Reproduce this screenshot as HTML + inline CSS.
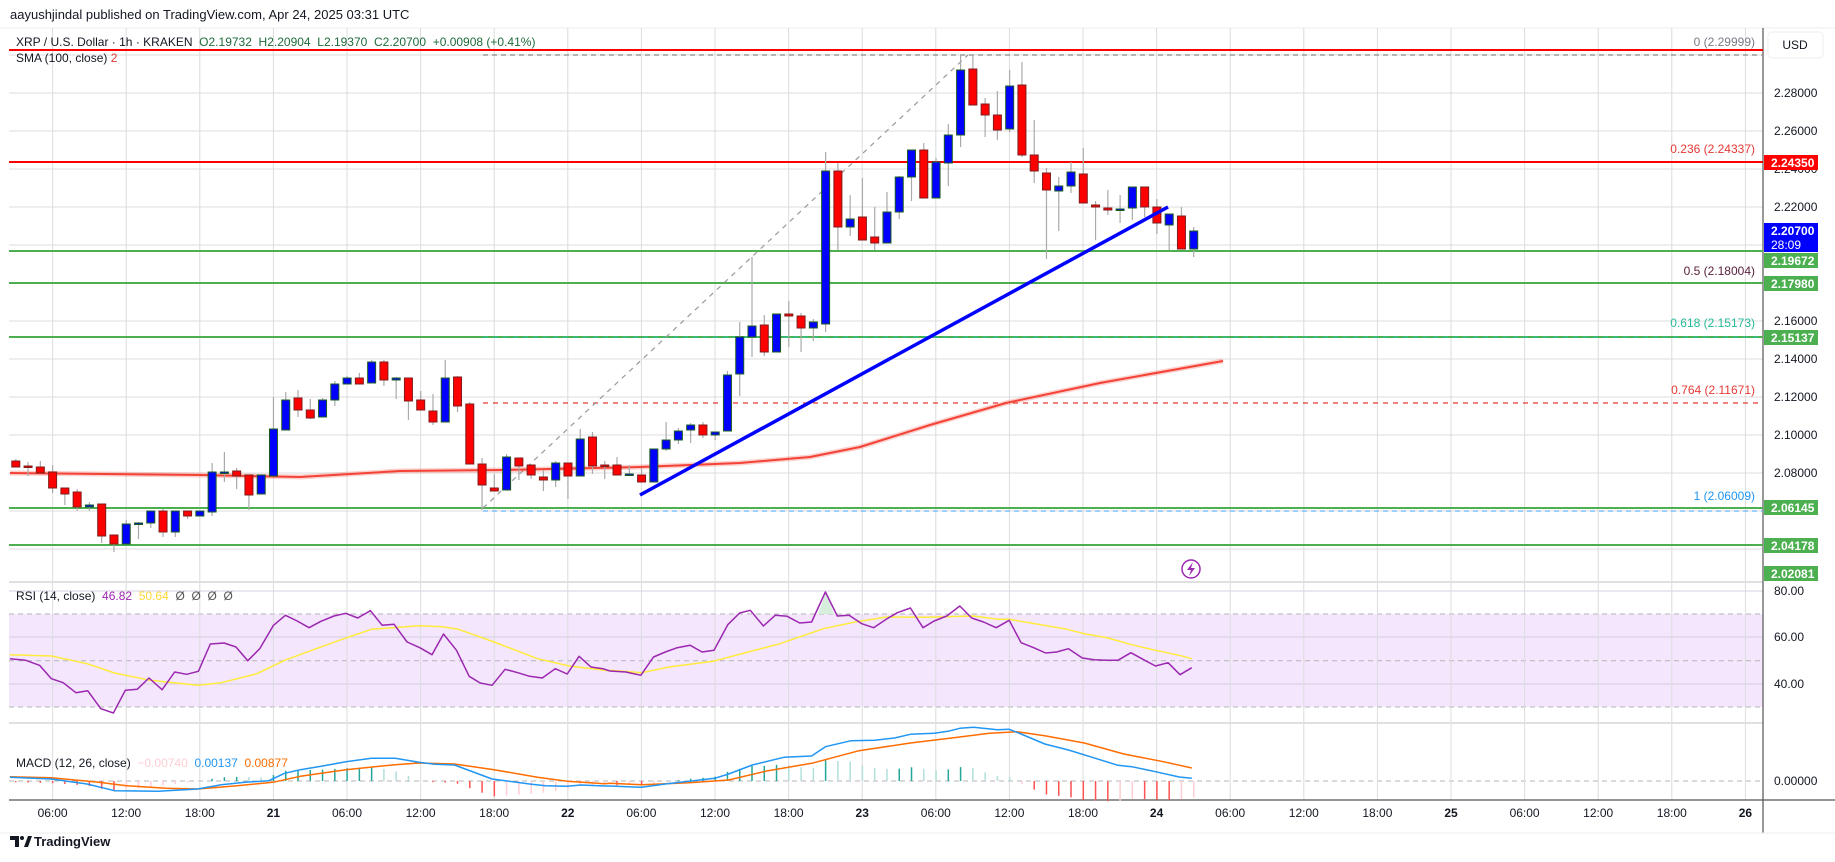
<!DOCTYPE html>
<html><head><meta charset="utf-8">
<style>
html,body{margin:0;padding:0;background:#fff;}
body{width:1835px;height:857px;overflow:hidden;font-family:"Liberation Sans",sans-serif;}
svg text{font-family:"Liberation Sans",sans-serif;}
</style></head>
<body>
<svg id="c" width="1835" height="857" xmlns="http://www.w3.org/2000/svg"></svg>
<script>
var S=[];
function L(x1,y1,x2,y2,c,w,d){S.push('<line x1="'+x1+'" y1="'+y1+'" x2="'+x2+'" y2="'+y2+'" stroke="'+c+'" stroke-width="'+(w||1)+'"'+(d?' stroke-dasharray="'+d+'"':'')+'/>');}
function R(x,y,w,h,f,s){S.push('<rect x="'+x+'" y="'+y+'" width="'+w+'" height="'+h+'" fill="'+f+'"'+(s?' stroke="'+s+'" stroke-width="1"':'')+'/>');}
function T(x,y,t,c,sz,anc,wt){S.push('<text x="'+x+'" y="'+y+'" fill="'+c+'" font-size="'+(sz||12)+'"'+(anc?' text-anchor="'+anc+'"':'')+(wt?' font-weight="'+wt+'"':'')+'>'+t+'</text>');}
function P(pts,c,w,fill){S.push('<polyline points="'+pts.map(function(p){return p[0].toFixed(1)+','+p[1].toFixed(1)}).join(' ')+'" fill="'+(fill||'none')+'" stroke="'+c+'" stroke-width="'+w+'" stroke-linejoin="round"/>');}
var XL=9,XR=1763;
// chart frame
R(0,0,1835,857,'#fff');
L(0,28,1835,28,'#eeeeee',1);
// RSI band
R(XL,614,XR-XL,93,'#f3e6fd');
// horizontal grid price
for(var y=93;y<=560;y+=38)L(XL,y,XR,y,'#dcdcdc',1);
L(XL,55,XR,55,'#dcdcdc',1);
// RSI grid
[591,637,684].forEach(function(y){L(XL,y,XR,y,'#d6cfe0',1);});
[614,660.7,707].forEach(function(y){L(XL,y,XR,y,'#b5b5b5',1,'5,4');});
// MACD zero
L(XL,781,XR,781,'#b5b5b5',1,'5,4');
// vertical grid
var tl=['06:00','12:00','18:00','21','06:00','12:00','18:00','22','06:00','12:00','18:00','23','06:00','12:00','18:00','24','06:00','12:00','18:00','25','06:00','12:00','18:00','26'];
for(var k=0;k<24;k++){var x=52.6+73.6*k;L(x,28,x,800,'#dcdcdc',1);T(x,817,tl[k],'#131722',12,'middle',tl[k].length==2?'bold':null);}
// pane separators
L(XL,582,XR,582,'#e0e0e0',2);L(XL,723,XR,723,'#e0e0e0',2);
L(XL,800,XR+72,800,'#555',1.2);
L(XR,28,XR,833,'#555',1.2);
L(0,833,1835,833,'#eeeeee',1);
// horizontal levels
L(XL,50,XR,50,'#ff0000',2);
L(483,55,XR,55,'#888',1.3,'5,4');
L(XL,162,XR,162,'#ff0000',2);
L(XL,251,XR,251,'#4caf50',2);
L(XL,283,XR,283,'#4caf50',2);
L(XL,337,XR,337,'#4caf50',2);
L(483,337,XR,337,'#26c6a6',1,'5,5');
L(483,403,XR,403,'#e53935',1.3,'5,5');
L(XL,508,XR,508,'#4caf50',2);
L(483,511,XR,511,'#64b5f6',1.3,'5,4');
L(XL,545,XR,545,'#4caf50',2);
// fib diagonal
L(483,508,968,55,'#999',1.2,'5,5');
// fib labels
T(1755,46,'0 (2.29999)','#787b86',12,'end');
T(1755,153,'0.236 (2.24337)','#e53935',12,'end');
T(1755,275,'0.5 (2.18004)','#5a1e3a',12,'end');
T(1755,327,'0.618 (2.15173)','#26b99a',12,'end');
T(1755,394,'0.764 (2.11671)','#e53935',12,'end');
T(1755,500,'1 (2.06009)','#2196f3',12,'end');
// SMA
var sma=[[10,473],[200,475],[300,477],[400,471],[500,470],[640,467],[740,463],[810,457],[860,447],[930,425],[1006,403],[1100,383],[1223,361]];
P(sma,'rgba(244,67,54,0.25)',5);P(sma,'#f44336',2);
// candles
var C=[[461,467,459,467,'d'],[466,467,462,476,'d'],[467,473,461,473,'d'],[472,488,465,493,'d'],[488,494,488,505,'d'],[492,507,489,511,'d'],[505,507,502,511,'u'],[504,536,504,543,'d'],[535,544,535,552,'d'],[524,544,520,544,'u'],[523,524,522,539,'u'],[511,523,511,528,'u'],[511,532,509,537,'d'],[511,532,511,537,'u'],[511,516,511,519,'d'],[511,516,511,516,'u'],[472,512,463,516,'u'],[472,473,452,482,'u'],[471,476,468,489,'d'],[475,495,475,510,'d'],[475,494,475,494,'u'],[429,476,397,476,'u'],[400,430,392,430,'u'],[398,410,390,417,'d'],[410,418,399,419,'d'],[400,417,398,417,'u'],[384,400,381,406,'u'],[378,384,376,384,'u'],[378,384,373,384,'d'],[362,383,360,383,'u'],[362,380,360,386,'d'],[378,380,377,399,'u'],[378,401,378,420,'d'],[400,410,391,410,'d'],[411,422,394,425,'d'],[378,422,360,422,'u'],[377,406,376,412,'d'],[404,464,402,464,'d'],[464,485,458,510,'d'],[488,491,474,491,'d'],[457,490,454,490,'u'],[458,466,458,480,'d'],[465,475,465,479,'d'],[477,480,470,491,'d'],[463,480,461,487,'u'],[463,476,463,499,'d'],[439,476,429,476,'u'],[437,466,432,474,'d'],[465,466,461,479,'d'],[465,475,457,475,'d'],[474,475,465,476,'u'],[475,482,468,482,'d'],[449,482,449,482,'u'],[440,449,422,451,'u'],[431,440,428,444,'u'],[425,430,423,443,'u'],[425,435,422,438,'d'],[432,435,432,440,'u'],[375,431,371,431,'u'],[337,374,322,396,'u'],[326,337,257,357,'u'],[325,352,315,356,'d'],[314,352,314,352,'u'],[314,316,301,347,'d'],[316,328,313,352,'d'],[322,328,319,341,'u'],[171,324,152,332,'u'],[171,227,163,250,'d'],[219,227,195,236,'u'],[217,240,178,240,'d'],[237,243,207,250,'d'],[212,243,192,243,'u'],[177,212,176,219,'u'],[150,177,150,201,'u'],[150,198,143,198,'d'],[162,198,158,198,'u'],[135,163,124,186,'u'],[70,135,55,147,'u'],[69,105,55,105,'d'],[104,115,98,137,'d'],[115,130,91,140,'d'],[86,129,70,132,'u'],[85,155,62,157,'d'],[155,171,120,183,'d'],[173,190,168,259,'d'],[186,191,177,231,'u'],[172,186,162,193,'u'],[174,203,148,203,'d'],[205,207,201,240,'d'],[208,210,190,215,'d'],[209,209,195,223,'u'],[187,208,187,220,'u'],[187,207,187,217,'d'],[207,223,199,234,'d'],[214,225,214,250,'u'],[216,249,207,249,'d'],[231,249,227,257,'u']];
C.forEach(function(c,i){var x=15.8+12.27*i;L(x,c[2],x,c[3],'#aaaaaa',1.2);
var h=Math.max(c[1]-c[0],1.5);
if(c[4]=='u')R(x-4,c[0],8,h,'#0000ff','#1b5e20');else R(x-4,c[0],8,h,'#ff0000','#7f1d1d');});
// trendline
L(640,495,1168,207,'#0000ff',3.5);
// RSI
function m10(a,oy){return a.map(function(p){return [p[0]/2.53,oy+p[1]/3];});}
function m11(a,oy){return a.map(function(p){return [610+p[0]/2.53,oy+p[1]/3];});}
var r10=[[25,200],[65,205],[100,220],[130,260],[160,272],[192,302],[222,296],[255,350],[287,363],[317,295],[347,292],[377,258],[410,293],[442,240],[472,247],[502,238],[532,156],[567,153],[597,165],[627,206],[657,170],[692,100],[722,70],[752,87],[782,107],[812,88],[845,72],[875,64],[905,78],[937,56],[967,100],[997,97],[1030,150],[1062,167],[1093,188],[1122,126],[1155,175],[1187,253],[1215,273],[1245,280],[1278,232],[1310,242],[1340,253],[1372,258],[1405,230],[1435,246],[1465,193],[1495,225],[1525,230]];
var r11=[[0,237],[40,240],[78,250],[110,195],[140,180],[170,167],[203,160],[233,180],[263,175],[298,98],[328,63],[355,55],[388,102],[418,70],[448,73],[480,93],[510,90],[545,0],[575,72],[605,70],[637,95],[667,107],[697,83],[727,62],[760,48],[792,107],[820,87],[852,72],[885,42],[915,78],[945,90],[977,107],[1010,85],[1040,152],[1072,167],[1102,183],[1130,180],[1160,170],[1195,198],[1225,203],[1257,205],[1285,205],[1318,182],[1350,203],[1380,222],[1412,212],[1442,248],[1472,227]];
var y10=[[25,188],[130,192],[220,215],[290,243],[380,265],[500,280],[560,272],[650,245],[720,205],[800,170],[870,140],[940,112],[1060,101],[1120,104],[1160,112],[1250,150],[1360,200],[1440,222],[1540,236]];
var y11=[[0,235],[80,242],[150,225],[260,208],[350,180],[430,155],[540,110],[620,90],[700,75],[800,76],[920,72],[980,82],[1010,82],[1150,110],[1200,125],[1260,138],[1320,158],[1380,175],[1440,190],[1472,200]];
S.push('<polygon points="818,614 826,592 834,614" fill="#d8eedd"/>');
P(m10(y10,592).concat(m11(y11,592)),'#ffeb3b',1.5);
P(m10(r10,592).concat(m11(r11,592)),'#9c27b0',1.5);
// MACD
var b10=[[25,550],[130,555],[220,570],[290,590],[400,592],[500,585],[560,572],[620,565],[680,560],[720,538],[760,527],[820,515],[875,503],[940,493],[1000,493],[1060,505],[1100,511],[1150,513],[1245,555],[1340,570],[1380,575],[1435,577],[1470,573],[1530,576]];
var b11=[[0,576],[80,580],[140,570],[200,562],[265,553],[300,540],[360,513],[440,490],[510,486],[545,458],[610,440],[670,439],[720,432],[760,421],[820,418],[855,412],[885,403],[920,400],[980,407],[1010,406],[1040,420],[1100,450],[1160,468],[1220,490],[1285,514],[1320,518],[1380,533],[1440,549],[1472,553]];
var o10=[[25,548],[130,551],[250,565],[320,575],[420,583],[500,585],[600,575],[690,565],[760,547],[875,527],[1000,512],[1060,507],[1150,510],[1250,527],[1360,550],[1435,562],[1530,569]];
var o11=[[0,568],[80,572],[200,566],[300,558],[400,530],[510,508],[630,470],[760,447],[880,430],[960,418],[1030,413],[1100,425],[1200,447],[1300,480],[1400,503],[1472,522]];
var B=m10(b10,594).concat(m11(b11,594)),O=m10(o10,594).concat(m11(o11,594));
function interp(a,x){for(var i=1;i<a.length;i++){if(a[i][0]>=x){var t=(x-a[i-1][0])/(a[i][0]-a[i-1][0]);return a[i-1][1]+t*(a[i][1]-a[i-1][1]);}}return a[a.length-1][1];}
var prev=0;
for(var i=0;i<97;i++){var x=15.8+12.27*i;var d=interp(O,x)-interp(B,x);var g=Math.abs(d)>Math.abs(prev);
var col=d>0?(g?'#26a69a':'#b2dfdb'):(g?'#ff5252':'#ffcdd2');var hgt=d*1.6;
if(Math.abs(hgt)>0.5)R(x-0.75,hgt>0?781-hgt:781,1.5,Math.abs(hgt),col);prev=d;}
P(O,'#ff6d00',1.5);P(B,'#2196f3',1.5);
// legends
T(10,19,'aayushjindal published on TradingView.com, Apr 24, 2025 03:31 UTC','#131722',13);
S.push('<text x="16" y="46" font-size="12" fill="#131722">XRP / U.S. Dollar · 1h · KRAKEN <tspan fill="#1e6b3a">&#160;O2.19732 &#160;H2.20904 &#160;L2.19370 &#160;C2.20700 &#160;+0.00908 (+0.41%)</tspan></text>');
S.push('<text x="16" y="62" font-size="12" fill="#131722">SMA (100, close) <tspan fill="#e53935">2</tspan></text>');
S.push('<text x="16" y="600" font-size="12" fill="#131722">RSI (14, close) &#160;<tspan fill="#9c27b0">46.82</tspan> &#160;<tspan fill="#fdd835">50.64</tspan> &#160;<tspan fill="#555">Ø &#160;Ø &#160;Ø &#160;Ø</tspan></text>');
S.push('<text x="16" y="767" font-size="12" fill="#131722">MACD (12, 26, close) &#160;<tspan fill="#ffcdd2">−0.00740</tspan> &#160;<tspan fill="#2196f3">0.00137</tspan> &#160;<tspan fill="#ff6d00">0.00877</tspan></text>');
// right axis
S.push('<rect x="1768" y="32" width="55" height="26" rx="4" fill="#fff" stroke="#eee"/>');
T(1795,49,'USD','#131722',12,'middle');
[[93,'2.28000'],[131,'2.26000'],[169,'2.24000'],[207,'2.22000'],[321,'2.16000'],[359,'2.14000'],[397,'2.12000'],[435,'2.10000'],[473,'2.08000'],[591,'80.00'],[637,'60.00'],[684,'40.00'],[781,'0.00000']].forEach(function(a){T(1774,a[0]+4,a[1],'#131722',12);});
function box(y1,y2,col,t,t2){R(1764,y1,54,y2-y1,col);T(1771,y1+12,t,'#fff',12,null,'bold');if(t2)T(1771,y1+26,t2,'#fff',12);}
box(155,170,'#ff0000','2.24350');
box(223,252,'#0000ff','2.20700','28:09');
box(253,268,'#4caf50','2.19672');
box(276,291,'#4caf50','2.17980');
box(330,345,'#4caf50','2.15137');
box(500,515,'#4caf50','2.06145');
box(538,553,'#4caf50','2.04178');
box(566,581,'#4caf50','2.02081');
// lightning icon
S.push('<circle cx="1191" cy="569" r="9" fill="#fff" stroke="#9c27b0" stroke-width="1.5"/><path d="M1193 562 L1187 570 L1191 570 L1189 576 L1195 568 L1191 568 Z" fill="#9c27b0"/>');
// TradingView logo
S.push('<path d="M10 836 h9 v11 h-4 v-7 h-5 z" fill="#131722"/><circle cx="22" cy="838" r="2" fill="#131722"/><path d="M24 847 l4 -11 h4 l-4 11 z" fill="#131722"/>');
T(34,846,'TradingView','#131722',13,null,'bold');
document.getElementById('c').innerHTML=S.join('');
</script>
</body></html>
